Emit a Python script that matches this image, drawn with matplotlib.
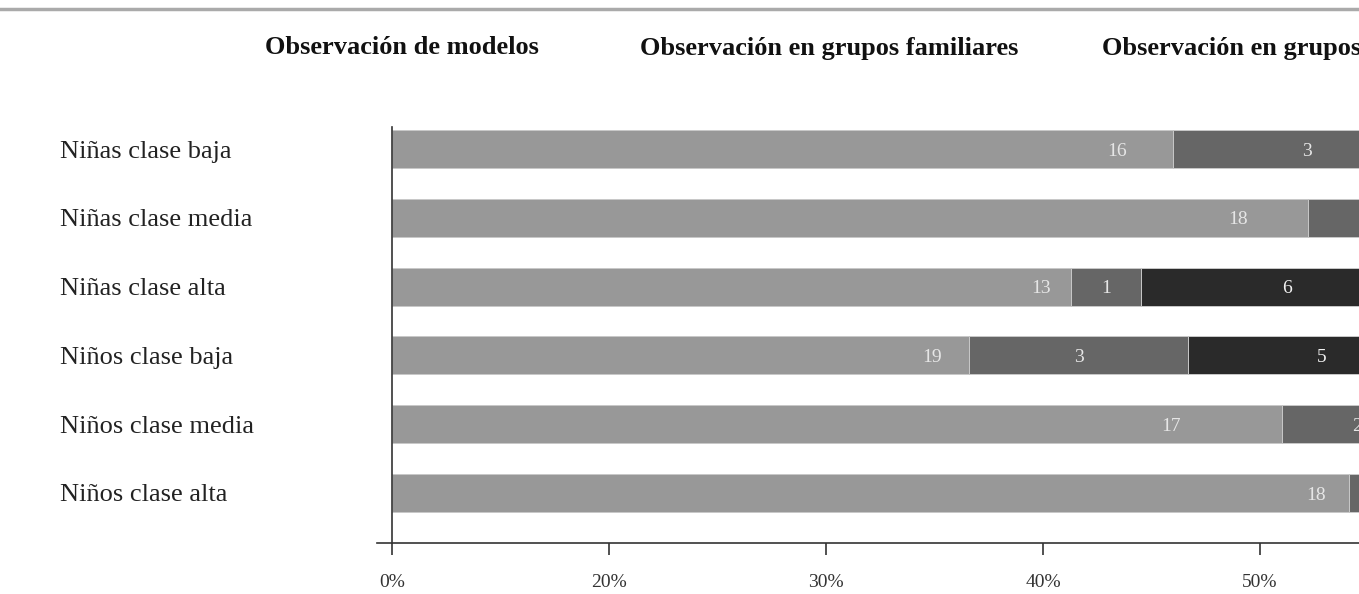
import matplotlib
matplotlib.use("Agg")
import matplotlib.pyplot as plt
from matplotlib.lines import Line2D

# ---------------- data ----------------
categories = ["Niñas clase baja", "Niñas clase media", "Niñas clase alta",
              "Niños clase baja", "Niños clase media", "Niños clase alta"]
series_names = ["Observación de modelos",
                "Observación en grupos familiares",
                "Observación en grupos de pares"]
# segment lengths (axis units)
modelos = [36.0, 42.2, 31.3, 26.6, 41.0, 44.1]
familiares = [12.3, 8.0, 3.2, 10.1, 6.9, 5.0]
grupos = [8.0, 6.0, 13.5, 12.3, 6.0, 5.0]
# counts printed inside the segments
modelos_n = [16, 18, 13, 19, 17, 18]
familiares_n = [3, 2, 1, 3, 2, 1]
grupos_n = [3, 2, 6, 5, 3, 2]
# where the count of the first segment is printed (axis units)
modelos_label_at = [33.4, 39.0, 29.9, 24.9, 35.9, 42.6]
tick_values = [0, 10, 20, 30, 40]
tick_labels = ["0%", "20%", "30%", "40%", "50%"]

colors = ["#989898", "#666666", "#2a2a2a"]
label_colors = ["#e6e6e6", "#e6e6e6", "#f0f0f0"]

W, H = 1359, 594
plt.rcParams["font.family"] = ["Liberation Serif", "DejaVu Serif"]
fig = plt.figure(figsize=(W / 100, H / 100), dpi=100)

ax_left, ax_right = 377, 1359
ax_top, ax_bot = 127, 543
ax = fig.add_axes([ax_left / W, 1 - ax_bot / H, (ax_right - ax_left) / W, (ax_bot - ax_top) / H])

px_per_unit = 21.7
x0 = -(392 - ax_left) / px_per_unit
x1 = (ax_right - 392) / px_per_unit

ypos = list(range(len(categories)))
bar_h = 0.55
lefts = [0.0] * len(categories)
all_vals = [modelos, familiares, grupos]
all_n = [modelos_n, familiares_n, grupos_n]
for k, (vals, ns) in enumerate(zip(all_vals, all_n)):
    ax.barh(ypos, vals, left=lefts, height=bar_h, color=colors[k],
            edgecolor="#c8c8c8", linewidth=0.7, zorder=2)
    for i, (v, n) in enumerate(zip(vals, ns)):
        if k == 0:
            xl = modelos_label_at[i]
        else:
            xl = lefts[i] + v / 2
        ax.text(xl, ypos[i] + 0.03, str(n), ha="center", va="center", fontsize=14,
                color=label_colors[k], clip_on=True, zorder=3)
    lefts = [l + v for l, v in zip(lefts, vals)]

# axes styling
for s in ["top", "right", "left"]:
    ax.spines[s].set_visible(False)
ax.spines["bottom"].set_color("#333333")
ax.spines["bottom"].set_linewidth(1.2)
ax.plot([0, 0], [-0.32, 5.727], color="#333333", lw=1.2, clip_on=False, zorder=4)

ax.set_xticks(tick_values)
ax.set_xticklabels(tick_labels, fontsize=14, color="#333333")
ax.tick_params(axis="x", length=12 * 0.72, width=1.2, color="#333333", pad=14)

ax.set_yticks(ypos)
ax.set_yticklabels(categories, fontsize=19, color="#222222")
ax.tick_params(axis="y", length=0, pad=(ax_left - 60) * 0.72)
for t in ax.get_yticklabels():
    t.set_horizontalalignment("left")

ax.set_xlim(x0, x1)
ax.set_ylim(5.727, -0.32)

# column headers
header_x = [265, 640, 1102]
for name, hx in zip(series_names, header_x):
    fig.text(hx / W, 1 - 48 / H, name, ha="left", va="center",
             fontsize=19, fontweight="bold", color="#111111")

# top rule
fig.add_artist(Line2D([0, 1], [1 - 9 / H, 1 - 9 / H], color="#aaaaaa", lw=2.5))

fig.savefig("out.png", dpi=100)
